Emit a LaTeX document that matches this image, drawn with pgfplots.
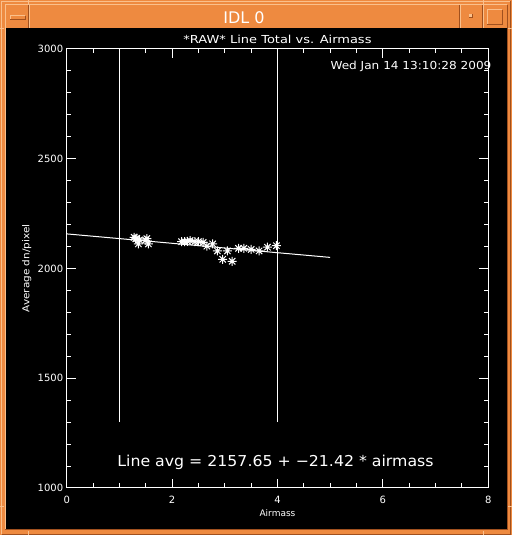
\documentclass[border=0pt]{standalone}
\usepackage{pgfplots}
\pgfplotsset{compat=1.18}
\usepackage{fontspec}
\setmainfont{DejaVu Sans}
\definecolor{winor}{RGB}{238,138,64}
\definecolor{winlt}{RGB}{250,192,140}
\definecolor{windk}{RGB}{160,80,30}
\pgfdeclareplotmark{idlast}{%
  \pgfpathmoveto{\pgfqpoint{-\pgfplotmarksize}{0pt}}\pgfpathlineto{\pgfqpoint{\pgfplotmarksize}{0pt}}%
  \pgfpathmoveto{\pgfqpoint{0pt}{-\pgfplotmarksize}}\pgfpathlineto{\pgfqpoint{0pt}{\pgfplotmarksize}}%
  \pgfpathmoveto{\pgfqpoint{-0.707\pgfplotmarksize}{-0.707\pgfplotmarksize}}\pgfpathlineto{\pgfqpoint{0.707\pgfplotmarksize}{0.707\pgfplotmarksize}}%
  \pgfpathmoveto{\pgfqpoint{-0.707\pgfplotmarksize}{0.707\pgfplotmarksize}}\pgfpathlineto{\pgfqpoint{0.707\pgfplotmarksize}{-0.707\pgfplotmarksize}}%
  \pgfusepathqstroke}
\begin{document}
\begin{tikzpicture}[x=1pt,y=1pt]
\useasboundingbox (0,0) rectangle (512,535);
% window frame
\fill[winor] (0,0) rectangle (512,535);
\draw[winlt,line width=1pt] (1.5,0.5) -- (1.5,533.5) -- (511,533.5);
\draw[windk,line width=1pt] (1.5,0.5) -- (510.5,0.5) -- (510.5,533.5);
\draw[winlt,line width=1pt] (5,5) -- (5,530) -- (507,530);
\draw[windk,line width=1pt] (5,5.5) -- (507,5.5) -- (507,530);
\draw[winlt,line width=1pt] (29,530) -- (29,507);
\draw[windk,line width=1pt] (28,530) -- (28,507);
\draw[winlt,line width=1pt] (460.5,530) -- (460.5,507);
\draw[windk,line width=1pt] (459.5,530) -- (459.5,507);
\draw[winlt,line width=1pt] (483.5,530) -- (483.5,507);
\draw[windk,line width=1pt] (482.5,530) -- (482.5,507);
\draw[winlt,line width=1pt] (28.5,535) -- (28.5,531);
\draw[winlt,line width=1pt] (28.5,0) -- (28.5,4);
\draw[winlt,line width=1pt] (483.5,535) -- (483.5,531);
\draw[winlt,line width=1pt] (483.5,0) -- (483.5,4);
\draw[winlt,line width=1pt] (0,506.5) -- (4,506.5);
\draw[winlt,line width=1pt] (508,506.5) -- (512,506.5);
\draw[winlt,line width=1pt] (0,28.5) -- (4,28.5);
\draw[winlt,line width=1pt] (508,28.5) -- (512,28.5);
% buttons
\draw[winlt,line width=1pt] (10,515) -- (10,519) -- (25,519);
\draw[windk,line width=1pt] (10,515) -- (25,515) -- (25,519);
\fill[windk] (469,517) rectangle (473,521);
\fill[winlt] (469,518) rectangle (472,521);
\draw[winlt,line width=1pt] (487,510) -- (487,525) -- (502,525);
\draw[windk,line width=1pt] (487,510) -- (502,510) -- (502,525);
\node[text=white,font=\fontsize{16}{18}\selectfont] at (244,517.5) {IDL 0};
% plotting area
\fill[black] (6,6) rectangle (507,506.5);
\begin{axis}[
  at={(66.7pt,47pt)}, anchor=south west,
  scale only axis, width=421.6pt, height=439pt,
  xmin=0, xmax=8, ymin=1000, ymax=3000,
  xtick={0,2,4,6,8}, minor x tick num=3,
  ytick={1000,1500,2000,2500,3000}, minor y tick num=4,
  tick align=inside, major tick length=9pt, minor tick length=4.5pt,
  axis line style={white, line width=1pt},
  every tick/.style={white, line width=1pt},
  every minor tick/.style={white, line width=1pt},
  /pgf/number format/assume math mode=true,
  /pgf/number format/set thousands separator={},
  tick label style={text=white, font=\fontsize{10}{12}\selectfont},
  xticklabel style={yshift=-5pt},
  title={\scalebox{1.18}[1]{*RAW* Line Total vs. Airmass}},
  every axis title/.style={at={(axis description cs:0.5,1)}, yshift=10pt, anchor=center, text=white, font=\fontsize{11}{13}\selectfont},
  xlabel={Airmass},
  every axis x label/.style={at={(axis description cs:0.5,0)}, yshift=-25pt, anchor=center, text=white, font=\fontsize{9}{11}\selectfont},
  ylabel={\scalebox{1.1}[1]{Average dn/pixel}},
  every axis y label/.style={at={(axis description cs:0,0.5)}, xshift=-40pt, rotate=90, anchor=center, text=white, font=\fontsize{9.5}{11}\selectfont},
  clip=false,
]
\addplot[white, line width=1pt] coordinates {(1,1300) (1,3000)};
\addplot[white, line width=1pt] coordinates {(4,1300) (4,3000)};
\addplot[white, line width=1pt] coordinates {(0,2157.65) (5,2050.55)};
\addplot[only marks, mark=idlast, mark size=4.5pt, white, line width=1pt] coordinates {
(1.28,2142) (1.31,2135) (1.33,2138) (1.36,2112) (1.38,2130)
(1.50,2128) (1.52,2136) (1.55,2112)
(2.18,2122) (2.24,2122) (2.29,2124) (2.34,2127) (2.43,2122) (2.50,2122)
(2.59,2119) (2.66,2102) (2.77,2112) (2.86,2080) (2.96,2042) (3.05,2080)
(3.14,2033) (3.26,2092) (3.36,2092) (3.50,2087) (3.65,2080) (3.81,2097) (3.98,2104)
};
\end{axis}
\node[anchor=east, text=white, font=\fontsize{11}{13}\selectfont] at (495,468.3) {\scalebox{1.1}[1]{Wed Jan 14 13:10:28 2009}};
\node[text=white, font=\fontsize{15}{18}\selectfont] at (275.5,72.3) {\scalebox{1.05}[1]{Line avg = 2157.65 + −21.42 * airmass}};
\end{tikzpicture}
\end{document}
